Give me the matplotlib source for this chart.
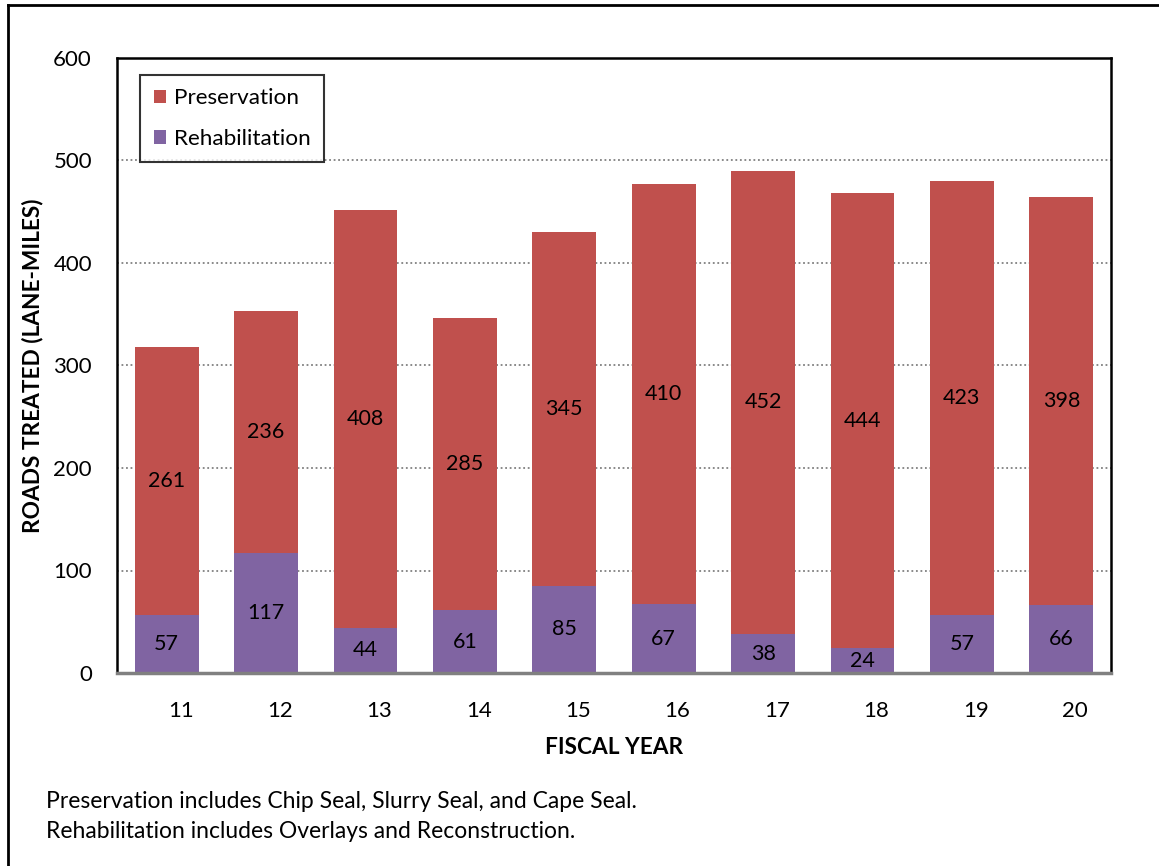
import numpy as np
import matplotlib.pyplot as plt
from matplotlib.lines import Line2D

plt.rcParams['font.family'] = ['Lato', 'DejaVu Sans']

years = ['11', '12', '13', '14', '15', '16', '17', '18', '19', '20']
rehab = [57, 117, 44, 61, 85, 67, 38, 24, 57, 66]
pres = [261, 236, 408, 285, 345, 410, 452, 444, 423, 398]

red = '#C0504D'
purple = '#8064A2'

fig = plt.figure(figsize=(11.59, 8.66), dpi=100)
ax = fig.add_axes([117/1159, 1-673/866, 994/1159, 615/866])

x = np.arange(len(years)) + 0.5
w = 0.64
ax.bar(x, rehab, w, color=purple, label='Rehabilitation', zorder=3)
ax.bar(x, pres, w, bottom=rehab, color=red, label='Preservation', zorder=3)

for i in range(len(years)):
    ax.text(x[i], rehab[i]/2, str(rehab[i]), ha='center', va='center', fontsize=15.5, zorder=4)
    ax.text(x[i], rehab[i] + pres[i]/2, str(pres[i]), ha='center', va='center', fontsize=15.5, zorder=4)

ax.set_xlim(0, 10)
ax.set_ylim(0, 600)
ax.set_yticks([0, 100, 200, 300, 400, 500, 600])
ax.set_xticks(x + 0.14)
ax.set_xticklabels(years)
ax.tick_params(axis='both', length=0, labelsize=16)
ax.tick_params(axis='x', pad=20)
ax.tick_params(axis='y', pad=18)
ax.yaxis.grid(True, color='#808080', linestyle=(0, (1, 1.5)), linewidth=1.3, zorder=0)

for s in ['left', 'top', 'right']:
    ax.spines[s].set_color('black')
    ax.spines[s].set_linewidth(1.8)
ax.spines['bottom'].set_color('#808080')
ax.spines['bottom'].set_linewidth(2.5)
ax.spines['bottom'].set_zorder(5)

ax.set_xlabel('FISCAL YEAR', fontsize=16.3, fontweight='bold')
ax.set_ylabel('ROADS TREATED (LANE-MILES)', fontsize=16.3, fontweight='bold')
ax.xaxis.set_label_coords(0.5, -(748-673)/615)
ax.xaxis.label.set_va('center')
ax.yaxis.set_label_coords((33-117)/994, 0.5)
ax.yaxis.label.set_va('center')

h, l = ax.get_legend_handles_labels()
leg = ax.legend(h[::-1], l[::-1], loc='upper left', bbox_to_anchor=(23/994, 1-17/615),
                borderaxespad=0, fontsize=16.2, frameon=True, fancybox=False, edgecolor='black',
                handlelength=0.55, handleheight=0.55, handletextpad=0.35,
                labelspacing=0.9, borderpad=0.6)
leg.get_frame().set_linewidth(1.5)

fig.text(46/1159, 1-802/866, 'Preservation includes Chip Seal, Slurry Seal, and Cape Seal.',
         fontsize=16.5, va='center')
fig.text(46/1159, 1-831/866, 'Rehabilitation includes Overlays and Reconstruction.',
         fontsize=16.5, va='center')

fig.add_artist(Line2D([8/1159, 1], [1-5/866, 1-5/866], color='black', linewidth=2))
fig.add_artist(Line2D([8/1159, 8/1159], [0, 1-5/866], color='black', linewidth=2))

fig.savefig('out.png', dpi=100)
